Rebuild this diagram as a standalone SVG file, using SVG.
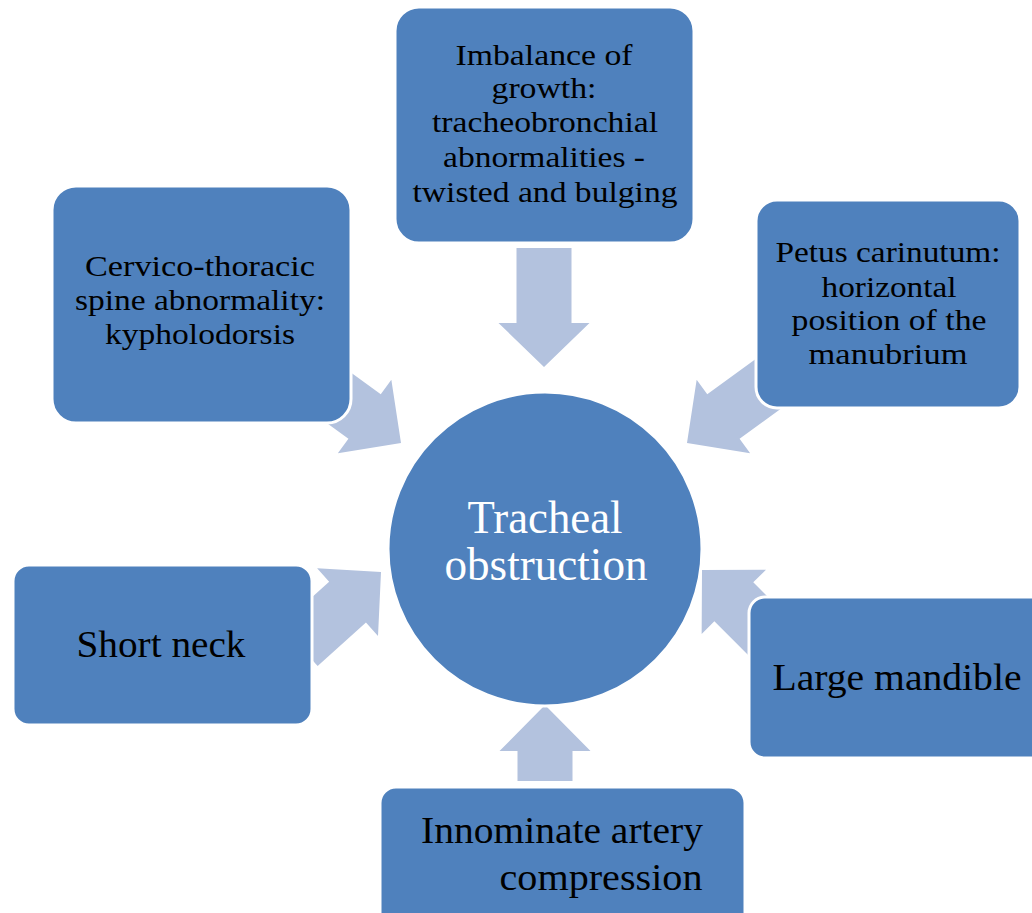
<svg xmlns="http://www.w3.org/2000/svg" width="1032" height="913" viewBox="0 0 1032 913">
<style>
.box{fill:#4F81BD;stroke:#FFFFFF;stroke-width:3}
.arr{fill:#B3C2DE}
.t{font-family:"Liberation Serif","Times New Roman",serif;font-size:30px;fill:#000;text-anchor:middle}
.tl{font-family:"Liberation Serif","Times New Roman",serif;font-size:38px;fill:#000;text-anchor:middle}
.tc{font-family:"Liberation Serif","Times New Roman",serif;font-size:46px;fill:#FFFFFF;text-anchor:middle}
</style>
<rect width="1032" height="913" fill="#FFFFFF"/>
<g id="connectors">
<path class="arr" transform="translate(544,367) rotate(90)" d="M0,0 L-44,-45.5 L-44,-27.5 L-119,-27.5 L-119,27.5 L-44,27.5 L-44,45.5 Z"/>
<path class="arr" transform="translate(545,705) rotate(-90)" d="M0,0 L-46,-45.5 L-46,-27.5 L-76,-27.5 L-76,27.5 L-46,27.5 L-46,45.5 Z"/>
<path class="arr" transform="translate(401,443) rotate(36)" d="M0,0 L-45,-45.5 L-45,-27.5 L-110,-27.5 L-110,27.5 L-45,27.5 L-45,45.5 Z"/>
<path class="arr" transform="translate(687,443) rotate(144)" d="M0,0 L-45,-45.5 L-45,-27.5 L-110,-27.5 L-110,27.5 L-45,27.5 L-45,45.5 Z"/>
<path class="arr" transform="translate(381,572) rotate(-42)" d="M0,0 L-45,-45.5 L-45,-27.5 L-110,-27.5 L-110,27.5 L-45,27.5 L-45,45.5 Z"/>
<path class="arr" transform="translate(702,570) rotate(-135)" d="M0,0 L-45,-45.5 L-45,-27.5 L-110,-27.5 L-110,27.5 L-45,27.5 L-45,45.5 Z"/>
</g>
<g id="center">
<circle cx="545" cy="549" r="157" fill="#4F81BD" stroke="#FFFFFF" stroke-width="3"/>
<text class="tc" x="545" y="533" textLength="155" lengthAdjust="spacingAndGlyphs">Tracheal</text>
<text class="tc" x="546" y="580" textLength="203" lengthAdjust="spacingAndGlyphs">obstruction</text>
</g>
<g id="node-top">
<rect class="box" x="395" y="7" width="299" height="236" rx="24"/>
<text class="t" x="544" y="65" textLength="177" lengthAdjust="spacingAndGlyphs">Imbalance of</text>
<text class="t" x="544" y="98" textLength="105" lengthAdjust="spacingAndGlyphs">growth:</text>
<text class="t" x="545" y="132" textLength="226" lengthAdjust="spacingAndGlyphs">tracheobronchial</text>
<text class="t" x="544" y="167" textLength="202" lengthAdjust="spacingAndGlyphs">abnormalities -</text>
<text class="t" x="545" y="202" textLength="265" lengthAdjust="spacingAndGlyphs">twisted and bulging</text>
</g>
<g id="node-topleft">
<rect class="box" x="52" y="186" width="299" height="237" rx="24"/>
<text class="t" x="200" y="276" textLength="230" lengthAdjust="spacingAndGlyphs">Cervico-thoracic</text>
<text class="t" x="200" y="310" textLength="250" lengthAdjust="spacingAndGlyphs">spine abnormality:</text>
<text class="t" x="200" y="344" textLength="190" lengthAdjust="spacingAndGlyphs">kypholodorsis</text>
</g>
<g id="node-topright">
<rect class="box" x="756" y="200" width="264" height="208" rx="21"/>
<text class="t" x="888" y="262" textLength="225" lengthAdjust="spacingAndGlyphs">Petus carinutum:</text>
<text class="t" x="889" y="297" textLength="135" lengthAdjust="spacingAndGlyphs">horizontal</text>
<text class="t" x="889" y="330" textLength="195" lengthAdjust="spacingAndGlyphs">position of the</text>
<text class="t" x="888" y="364" textLength="159" lengthAdjust="spacingAndGlyphs">manubrium</text>
</g>
<g id="node-left">
<rect class="box" x="13" y="565" width="299" height="160" rx="16"/>
<text class="tl" x="161" y="657" textLength="169" lengthAdjust="spacingAndGlyphs">Short neck</text>
</g>
<g id="node-right">
<rect class="box" x="749" y="597" width="300" height="161" rx="16"/>
<text class="tl" x="897" y="690" textLength="249" lengthAdjust="spacingAndGlyphs">Large mandible</text>
</g>
<g id="node-bottom">
<rect class="box" x="380" y="787" width="365" height="160" rx="16"/>
<text class="tl" x="562" y="843" textLength="282" lengthAdjust="spacingAndGlyphs">Innominate artery</text>
<text class="tl" x="601" y="890" textLength="203" lengthAdjust="spacingAndGlyphs">compression</text>
</g>
</svg>
